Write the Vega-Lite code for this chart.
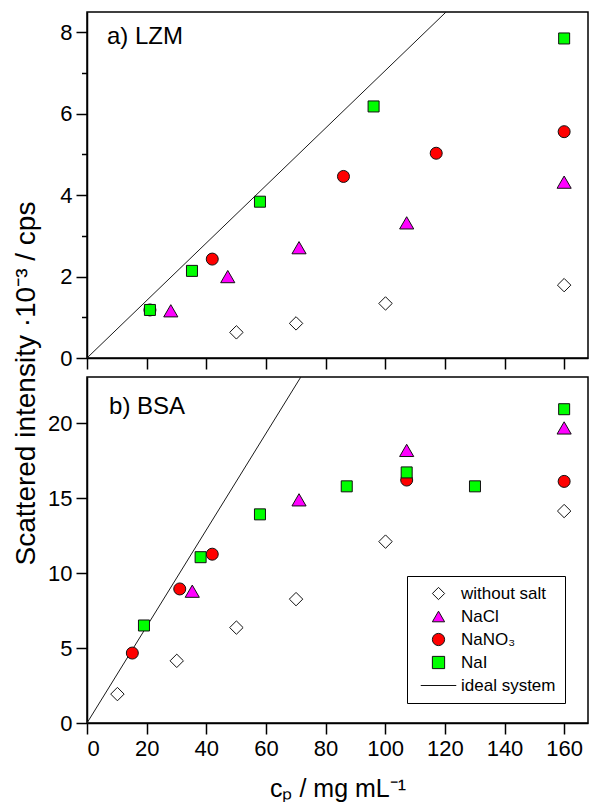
{
  "$schema": "https://vega.github.io/schema/vega-lite/v6.json",
  "padding": {"left": 11, "top": 11, "right": 0, "bottom": 0},
  "bounds": "flush",
  "spacing": 19,
  "config": {
    "font": "Liberation Sans",
    "view": {"stroke": "black", "strokeWidth": 1.5},
    "axis": {"grid": false, "domainColor": "black", "domainWidth": 1.5, "tickColor": "black", "tickWidth": 1.5, "labelFont": "Liberation Sans", "labelFontSize": 22, "labelColor": "black", "titleFont": "Liberation Sans", "titleColor": "black", "titleFontWeight": "normal", "labelPadding": 4}
  },
  "datasets": {
    "lzm": [
      {"series": "without salt", "c": 50.1, "I": 0.63},
      {"series": "without salt", "c": 70.1, "I": 0.85},
      {"series": "without salt", "c": 100.1, "I": 1.34},
      {"series": "without salt", "c": 160, "I": 1.79},
      {"series": "NaCl", "c": 28.1, "I": 1.16},
      {"series": "NaCl", "c": 47.2, "I": 2.0},
      {"series": "NaCl", "c": 71.1, "I": 2.71},
      {"series": "NaCl", "c": 107.2, "I": 3.32},
      {"series": "NaCl", "c": 160, "I": 4.32},
      {"series": "NaNO₃", "c": 21.1, "I": 1.18},
      {"series": "NaNO₃", "c": 42.0, "I": 2.43},
      {"series": "NaNO₃", "c": 86.0, "I": 4.46},
      {"series": "NaNO₃", "c": 117.1, "I": 5.03},
      {"series": "NaNO₃", "c": 160, "I": 5.56},
      {"series": "NaI", "c": 21.1, "I": 1.18},
      {"series": "NaI", "c": 35.2, "I": 2.14},
      {"series": "NaI", "c": 58.0, "I": 3.84},
      {"series": "NaI", "c": 96.1, "I": 6.18},
      {"series": "NaI", "c": 160, "I": 7.85}
    ],
    "bsa": [
      {"series": "without salt", "c": 10.2, "I": 1.93},
      {"series": "without salt", "c": 30.1, "I": 4.15},
      {"series": "without salt", "c": 50.1, "I": 6.37},
      {"series": "without salt", "c": 70.1, "I": 8.27},
      {"series": "without salt", "c": 100.1, "I": 12.11},
      {"series": "without salt", "c": 160, "I": 14.15},
      {"series": "NaNO₃", "c": 15.2, "I": 4.67},
      {"series": "NaNO₃", "c": 31.1, "I": 8.95},
      {"series": "NaNO₃", "c": 42.0, "I": 11.27},
      {"series": "NaNO₃", "c": 107.2, "I": 16.22},
      {"series": "NaNO₃", "c": 160, "I": 16.13},
      {"series": "NaCl", "c": 35.3, "I": 8.8},
      {"series": "NaCl", "c": 71.1, "I": 14.9},
      {"series": "NaCl", "c": 107.2, "I": 18.2},
      {"series": "NaCl", "c": 160, "I": 19.7},
      {"series": "NaI", "c": 19.1, "I": 6.51},
      {"series": "NaI", "c": 38.1, "I": 11.07},
      {"series": "NaI", "c": 58.0, "I": 13.93},
      {"series": "NaI", "c": 87.1, "I": 15.8},
      {"series": "NaI", "c": 107.2, "I": 16.73},
      {"series": "NaI", "c": 130.1, "I": 15.8},
      {"series": "NaI", "c": 160, "I": 20.95}
    ],
    "idealA": [{"c": 0, "I": 0}, {"c": 120.4, "I": 8.5}],
    "idealB": [{"c": 0, "I": 0}, {"c": 71.7, "I": 23.1}],
    "labelA": [{"panel": "a)  LZM"}],
    "labelB": [{"panel": "b)  BSA"}]
  },
  "resolve": {
    "scale": {"shape": "independent", "fill": "independent"},
    "legend": {"shape": "independent", "fill": "independent"}
  },
  "vconcat": [
    {
      "width": 501,
      "height": 346,
      "layer": [
        {
          "data": {"name": "idealA"},
          "mark": {"type": "line", "color": "#1a1a1a", "strokeWidth": 1, "clip": true},
          "encoding": {
            "x": {"field": "c", "type": "quantitative", "scale": {"domain": [0, 168], "nice": false},
              "axis": {"values": [0, 10, 20, 30, 40, 50, 60, 70, 80, 90, 100, 110, 120, 130, 140, 150, 160], "labels": false, "title": null,
                "tickSize": {"condition": {"test": "datum.value % 20 === 0", "value": 11}, "value": 5.5}}},
            "y": {"field": "I", "type": "quantitative", "scale": {"domain": [0, 8.5], "nice": false},
              "axis": {"values": [0, 1, 2, 3, 4, 5, 6, 7, 8], "labelExpr": "datum.value % 2 === 0 ? datum.label : ''",
                "tickSize": {"condition": {"test": "datum.value % 2 === 0", "value": 11}, "value": 5.5},
                "title": "Scattered intensity ·10⁻³ / cps", "titleFontSize": 28, "titleX": -53, "titleY": 371, "titleAngle": 270, "titleAlign": "center", "titleBaseline": "alphabetic"}}
          }
        },
        {
          "data": {"name": "labelA"},
          "mark": {"type": "text", "align": "left", "baseline": "alphabetic", "fontSize": 24, "font": "Liberation Sans", "color": "black"},
          "encoding": {
            "x": {"datum": 6.7, "type": "quantitative"},
            "y": {"datum": 7.71, "type": "quantitative"},
            "text": {"field": "panel"}
          }
        },
        {
          "data": {"name": "lzm"},
          "mark": {"type": "point", "filled": true, "stroke": "#111", "strokeWidth": 1, "opacity": 1},
          "encoding": {
            "x": {"field": "c", "type": "quantitative"},
            "y": {"field": "I", "type": "quantitative"},
            "shape": {"field": "series", "type": "nominal", "legend": null,
              "scale": {"domain": ["without salt", "NaCl", "NaNO₃", "NaI", "ideal system"], "range": ["diamond", "triangle-up", "circle", "square", "M-2.9,0H2.9"]}},
            "fill": {"field": "series", "type": "nominal", "legend": null,
              "scale": {"domain": ["without salt", "NaCl", "NaNO₃", "NaI", "ideal system"], "range": ["#ffffff", "#ff00ff", "#ff0000", "#00ff00", "#000000"]}},
            "size": {"condition": [
              {"test": "datum.series === 'NaI'", "value": 121},
              {"test": "datum.series === 'NaNO₃'", "value": 144},
              {"test": "datum.series === 'NaCl'", "value": 200}
            ], "value": 180}
          }
        }
      ]
    },
    {
      "width": 501,
      "height": 346,
      "layer": [
        {
          "data": {"name": "idealB"},
          "mark": {"type": "line", "color": "#1a1a1a", "strokeWidth": 1, "clip": true},
          "encoding": {
            "x": {"field": "c", "type": "quantitative", "scale": {"domain": [0, 168], "nice": false},
              "axis": {"values": [0, 10, 20, 30, 40, 50, 60, 70, 80, 90, 100, 110, 120, 130, 140, 150, 160], "labelExpr": "datum.value % 20 === 0 ? datum.label : ''",
                "tickSize": {"condition": {"test": "datum.value % 20 === 0", "value": 11}, "value": 5.5},
                "title": "cₚ / mg mL⁻¹", "titleFontSize": 25, "titleY": 73, "titleBaseline": "alphabetic", "titleAlign": "center"}},
            "y": {"field": "I", "type": "quantitative", "scale": {"domain": [0, 23.1], "nice": false},
              "axis": {"values": [0, 2.5, 5, 7.5, 10, 12.5, 15, 17.5, 20, 22.5], "labelExpr": "datum.value % 5 === 0 ? datum.label : ''",
                "tickSize": {"condition": {"test": "datum.value % 5 === 0", "value": 11}, "value": 5.5},
                "title": null}}
          }
        },
        {
          "data": {"name": "labelB"},
          "mark": {"type": "text", "align": "left", "baseline": "alphabetic", "fontSize": 24, "font": "Liberation Sans", "color": "black"},
          "encoding": {
            "x": {"datum": 7.4, "type": "quantitative"},
            "y": {"datum": 20.6, "type": "quantitative"},
            "text": {"field": "panel"}
          }
        },
        {
          "data": {"name": "bsa"},
          "mark": {"type": "point", "filled": true, "stroke": "#111", "strokeWidth": 1, "opacity": 1},
          "encoding": {
            "x": {"field": "c", "type": "quantitative"},
            "y": {"field": "I", "type": "quantitative"},
            "shape": {"field": "series", "type": "nominal",
              "scale": {"domain": ["without salt", "NaCl", "NaNO₃", "NaI", "ideal system"], "range": ["diamond", "triangle-up", "circle", "square", "M-2.9,0H2.9"]},
              "legend": {"orient": "none", "legendX": 320, "legendY": 199, "title": null, "labelFontSize": 17, "labelFont": "Liberation Sans", "labelColor": "black",
                "strokeColor": "black", "fillColor": "white", "padding": 9, "symbolSize": 150, "symbolStrokeWidth": 1,
                "symbolOffset": 14, "labelOffset": 14, "rowPadding": 5, "cornerRadius": 0,
                "encode": {"symbols": {"stroke": {"value": "#111"}, "strokeWidth": {"value": 1}, "strokeOpacity": {"value": 1}}}}},
            "fill": {"field": "series", "type": "nominal",
              "scale": {"domain": ["without salt", "NaCl", "NaNO₃", "NaI", "ideal system"], "range": ["#ffffff", "#ff00ff", "#ff0000", "#00ff00", "#000000"]},
              "legend": {"orient": "none", "legendX": 320, "legendY": 199, "title": null, "labelFontSize": 17, "labelFont": "Liberation Sans", "labelColor": "black",
                "strokeColor": "black", "fillColor": "white", "padding": 9, "symbolSize": 150, "symbolStrokeWidth": 1,
                "symbolOffset": 14, "labelOffset": 14, "rowPadding": 5, "cornerRadius": 0,
                "encode": {"symbols": {"stroke": {"value": "#111"}, "strokeWidth": {"value": 1}, "strokeOpacity": {"value": 1}}}}},
            "size": {"condition": [
              {"test": "datum.series === 'NaI'", "value": 121},
              {"test": "datum.series === 'NaNO₃'", "value": 144},
              {"test": "datum.series === 'NaCl'", "value": 200}
            ], "value": 180}
          }
        }
      ]
    }
  ]
}
